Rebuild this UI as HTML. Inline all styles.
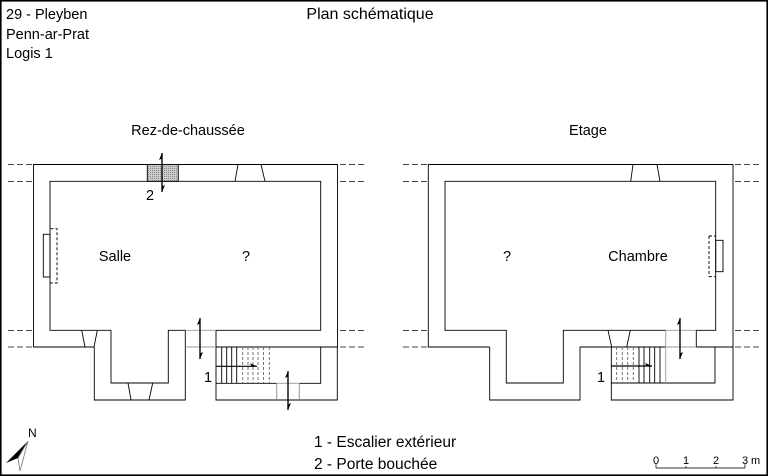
<!DOCTYPE html>
<html><head><meta charset="utf-8"><style>
html,body{margin:0;padding:0;background:#fff}
svg{display:block}
text{font-family:"Liberation Sans",sans-serif;font-size:14.5px;fill:#000}
</style></head><body>
<svg width="768" height="476" viewBox="0 0 768 476" xmlns="http://www.w3.org/2000/svg">
<defs>
<pattern id="h" width="2" height="2" patternUnits="userSpaceOnUse"><rect width="2" height="2" fill="#ccc"/><rect width="1" height="1" fill="#888"/></pattern>
<marker id="a" markerWidth="8" markerHeight="8" markerUnits="userSpaceOnUse" refX="7" refY="4" orient="auto" viewBox="0 0 8 8"><path d="M7,4 L0,1 L1.5,4 Z" fill="#000"/></marker>
</defs>
<rect x="0.8" y="0.8" width="766.4" height="474.4" fill="none" stroke="#000" stroke-width="1.6"/>
<text x="6" y="19">29 - Pleyben</text>
<text x="6" y="39">Penn-ar-Prat</text>
<text x="6" y="58">Logis 1</text>
<text x="370" y="19" text-anchor="middle" style="font-size:16px">Plan schématique</text>
<text x="188" y="135" text-anchor="middle">Rez-de-chaussée</text>
<text x="588" y="135" text-anchor="middle">Etage</text>
<text x="314" y="447" style="font-size:15.5px">1 - Escalier extérieur</text>
<text x="314" y="469" style="font-size:15.5px">2 - Porte bouchée</text>

<g stroke="#000" stroke-width="0.9" fill="none">
<g stroke-dasharray="6,3" stroke="#444">
<path d="M8 164.5H33.5M8 181.5H33.5M8 330.5H33.5M8 347H33.5M340 164.5H364M340 181.5H364M340 330.5H364M340 347H364"/>
<path d="M403 164.5H428M403 181.5H428M403 330.5H428M403 347H428M735 164.5H760M735 181.5H760M735 330.5H760M735 347H760"/>
</g>
<!-- LEFT PLAN -->
<path d="M94.3 347H33.5V164.5H337.5V347H216"/>
<path d="M111 330.3H50V181.3H320.7V330.3H216V400H337.3V347"/>
<path d="M94.3 347V400H185.3V330.3H168.3V383H111V330.3"/>
<path d="M320.7 347V383.3H299.3M276.7 383.3H216"/>
<path d="M276.7 400V383.3M299.3 400V383.3" stroke="#888"/>
<path d="M185.3 330.3H216M185.3 347H216M276.7 383.3H299.3" stroke="#999"/>
<rect x="147.3" y="164.5" width="31" height="16.8" fill="url(#h)"/>
<path d="M238 164.5L235 181.3M261 164.5L265 181.3"/>
<path d="M81.7 330.3L85 347M97.3 330.3L94 347"/>
<path d="M128 383L131 400M152.7 383L149 400"/>
<rect x="43.3" y="234.3" width="6.7" height="42.7"/>
<path d="M50.5 228.7H57V283H50.5" stroke-dasharray="3,2"/>
<path d="M221.7 347V383M226.7 347V383M231.7 347V383M236.7 347V383"/>
<path d="M242.7 347V383M248 347V383M253 347V383M258 347V383M263.5 347V383M269.3 347V383" stroke-dasharray="3,2" stroke="#666"/>
<g stroke-width="1.2">
<path d="M216 366.3H257" marker-end="url(#a)"/>
<path d="M200 359V318" marker-end="url(#a)"/>
<path d="M200 318V359" marker-end="url(#a)"/>
<path d="M162 192V153" marker-end="url(#a)"/>
<path d="M162 153V192" marker-end="url(#a)"/>
<path d="M288 410V371" marker-end="url(#a)"/>
<path d="M288 371V410" marker-end="url(#a)"/>
</g>
<!-- RIGHT PLAN -->
<path d="M489.7 347H428.3V164.5H733V400H611.3V347H580V400H489.7V347"/>
<path d="M580 347H611.3M611.3 347H733"/>
<path d="M665.7 330.3H563.3V383H506.3V330.3H445V181.3H715.7V330.3H696.3V347"/>
<path d="M715 347V383H611.3"/>
<path d="M665.7 330.3H696.3M665.7 347H696.3M665.7 330.3V383" stroke="#999"/>
<path d="M633 164.5L630.7 181.3M657 164.5L660 181.3"/>
<path d="M608 330.3L611.7 347M630.3 330.3L626.7 347"/>
<path d="M709 236H715.7M709 276.7H715.7M709 236V276.7" stroke-dasharray="3,2"/>
<rect x="715.7" y="240.3" width="7.3" height="31.4"/>
<path d="M616.7 347V383M622.3 347V383M627.7 347V383M633.3 347V383" stroke-dasharray="3,2" stroke="#666"/>
<path d="M639 347V383M644 347V383M649.7 347V383M654.7 347V383M660 347V383"/>
<g stroke-width="1.2">
<path d="M611.3 366H652" marker-end="url(#a)"/>
<path d="M680 359V318" marker-end="url(#a)"/>
<path d="M680 318V359" marker-end="url(#a)"/>
</g>
<path d="M656 468H745M656 464V468M686 466V468M716 466V468M745 464V468" stroke="#333"/>
</g>
<text x="115" y="261" text-anchor="middle">Salle</text>
<text x="246" y="261" text-anchor="middle">?</text>
<text x="150" y="200" text-anchor="middle">2</text>
<text x="208" y="382" text-anchor="middle">1</text>
<text x="507" y="261" text-anchor="middle">?</text>
<text x="638" y="261" text-anchor="middle">Chambre</text>
<text x="601" y="382" text-anchor="middle">1</text>
<text x="656" y="464" text-anchor="middle" style="font-size:11px">0</text>
<text x="686" y="464" text-anchor="middle" style="font-size:11px">1</text>
<text x="716" y="464" text-anchor="middle" style="font-size:11px">2</text>
<text x="745" y="464" text-anchor="middle" style="font-size:11px">3</text>
<text x="751" y="464" style="font-size:11px">m</text>
<text x="28" y="437" style="font-size:12px">N</text>
<path d="M28 441L6 463L18 458Z" fill="#000"/>
<path d="M28 441L18 458L20 471Z" fill="none" stroke="#777" stroke-width="0.8"/>
</svg>
</body></html>
